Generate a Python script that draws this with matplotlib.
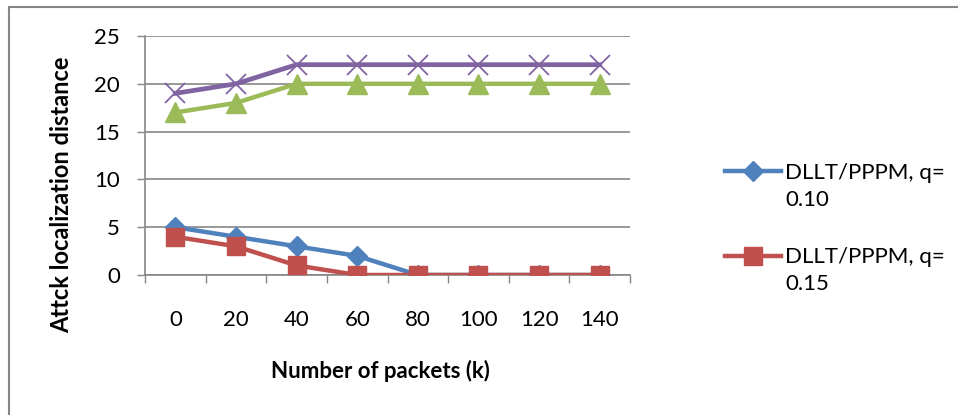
import matplotlib
matplotlib.use('Agg')
import matplotlib.pyplot as plt
from matplotlib.patches import Rectangle
from matplotlib.text import Annotation

packets = ['0', '20', '40', '60', '80', '100', '120', '140']
q010 = [5, 4, 3, 2, 0, 0, 0, 0]
q015 = [4, 3, 1, 0, 0, 0, 0, 0]
series3 = [17, 18, 20, 20, 20, 20, 20, 20]
series4 = [19, 20, 22, 22, 22, 22, 22, 22]

plt.rcParams['font.family'] = ['Lato', 'DejaVu Sans']
grid_c = '#868686'
fs = 16

fig = plt.figure(figsize=(9.58, 4.15), dpi=100)
ax = fig.add_axes([145 / 958, 1 - 275 / 415, 485 / 958, 239 / 415])

# outer chart border
fig.patches.append(Rectangle((8.5 / 958, -0.1), 1.2, 1.1 - 7 / 415, transform=fig.transFigure,
                             fill=False, edgecolor='#868686', linewidth=1.5))

x = range(len(packets))
ax.plot(x, q010, color='#4F81BD', lw=3.2, marker='D', ms=10, label='DLLT/PPPM, q=', zorder=4)
ax.plot(x, q015, color='#C0504D', lw=3.2, marker='s', ms=13, label='DLLT/PPPM, q=', zorder=5)
ax.plot(x, series3, color='#9BBB59', lw=3.2, marker='^', ms=14, zorder=4)
ax.plot(x, series4, color='#8064A2', lw=3.4, marker='x', ms=14, mew=1.3, zorder=5)

ax.set_xlim(-0.5, len(packets) - 0.5)
ax.set_ylim(0, 25)
ax.set_yticks(range(0, 26, 5))
ax.set_xticks(list(x))
ax.set_xticklabels(packets)
ax.set_xticks([i - 0.5 for i in range(len(packets) + 1)], minor=True)
ax.tick_params(axis='x', which='major', length=0, pad=25, labelsize=fs)
ax.tick_params(axis='x', which='minor', length=6, width=1, color=grid_c)
ax.tick_params(axis='y', length=6, width=1, color=grid_c, pad=12, labelsize=fs)
ax.yaxis.grid(True, color=grid_c, lw=1.2)
ax.set_axisbelow(True)
for s in ['top', 'right']:
    ax.spines[s].set_visible(False)
for s in ['left', 'bottom']:
    ax.spines[s].set_color(grid_c)
    ax.spines[s].set_linewidth(1.2)

ax.set_ylabel('Attck localization distance', fontsize=17, fontweight='bold')
ax.yaxis.set_label_coords(-0.148, (275 - 195) / 239)
ax.set_xlabel('Number of packets (k)', fontsize=fs, fontweight='bold')
ax.xaxis.set_label_coords((380 - 145) / 485, -(360 - 275) / 239)

leg = fig.legend(loc='upper left', bbox_to_anchor=(725 / 958, 1 - 163 / 415), frameon=False,
                 fontsize=fs, handlelength=2.5, handletextpad=0.2, labelspacing=2.9,
                 borderpad=0, borderaxespad=0)
# second line of each legend label, hung below the first
for txt, q in zip(leg.get_texts(), ['0.10', '0.15']):
    fig.add_artist(Annotation(q, xy=(0, 0), xycoords=txt, xytext=(0, -5),
                              textcoords='offset points', va='top', ha='left',
                              fontsize=fs, zorder=10))

fig.savefig('out.png', dpi=100)
